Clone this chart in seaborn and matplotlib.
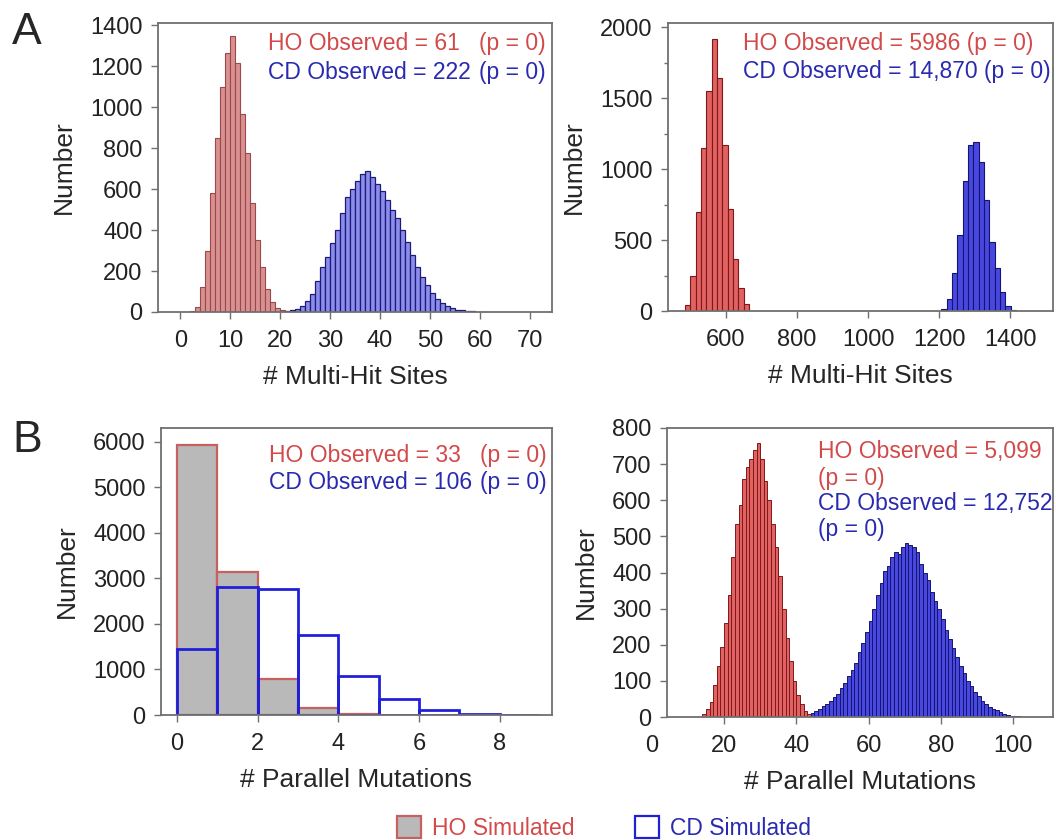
import numpy as np
import pandas as pd
import matplotlib
matplotlib.use("Agg")
import matplotlib.pyplot as plt
import matplotlib.transforms as mtransforms
from matplotlib.patches import Patch
from matplotlib.ticker import MultipleLocator
import seaborn as sns

# ---------------- data (bin left edges + counts) -------------
# Panel A left: # Multi-Hit Sites (bin width 1)
ho_a1_start = 2
ho_a1_counts = [5, 25, 120, 300, 580, 850, 1100, 1265, 1345, 1215, 965, 775, 530,
                350, 220, 110, 50, 20, 8]
cd_a1_start = 21
cd_a1_counts = [3, 8, 15, 30, 55, 90, 150, 219, 267, 335, 399, 481, 559, 601, 641,
                675, 690, 660, 625, 590, 545, 500, 460, 400, 340, 280, 220, 170,
                130, 95, 65, 45, 30, 20, 12, 8, 5, 3, 2, 1]

# Panel A right: # Multi-Hit Sites (bin width 15)
ho_a2_start = 485
ho_a2_counts = [40, 250, 700, 1150, 1550, 1920, 1640, 1170, 720, 370, 160, 50]
cd_a2_start = 1206
cd_a2_counts = [17, 83, 267, 533, 917, 1167, 1190, 1050, 783, 483, 300, 133, 33, 8]

# Panel B left: # Parallel Mutations (bin width 1)
ho_b1_start = 0
ho_b1_counts = [5920, 3140, 780, 150, 20]
cd_b1_start = 0
cd_b1_counts = [1450, 2820, 2760, 1750, 850, 350, 100, 30, 10]

# Panel B right: # Parallel Mutations (bin width 1)
ho_b2_start = 14
ho_b2_counts = [9, 22, 42, 88, 140, 193, 259, 338, 443, 535, 588, 660, 693, 713,
                740, 759, 713, 654, 601, 535, 470, 391, 299, 220, 154, 101, 62,
                36, 16, 8, 4]
cd_b2_start = 44
cd_b2_counts = [12, 16, 22, 30, 36, 45, 55, 65, 80, 95, 114, 130, 150, 180, 205,
                235, 265, 299, 338, 370, 404, 417, 443, 457, 450, 470, 483, 476,
                470, 457, 424, 400, 378, 345, 320, 299, 270, 240, 215, 190, 165,
                140, 121, 101, 85, 70, 58, 45, 36, 29, 22, 18, 13, 9, 6, 4, 3, 2]

xlabels = ["# Multi-Hit Sites", "# Multi-Hit Sites",
           "# Parallel Mutations", "# Parallel Mutations"]
ylabel = "Number"
ann_a1 = [("HO Observed = 61", "(p = 0)"), ("CD Observed = 222", "(p = 0)")]
ann_a2 = ["HO Observed = 5986 (p = 0)", "CD Observed = 14,870 (p = 0)"]
ann_b1 = [("HO Observed = 33", "(p = 0)"), ("CD Observed = 106", "(p = 0)")]
ann_b2 = ["HO Observed = 5,099", "(p = 0)", "CD Observed = 12,752", "(p = 0)"]
legend_labels = ["HO Simulated", "CD Simulated"]
panel_letters = ["A", "B"]

# ---------------- style ----------------
sns.set_theme(style="ticks")
plt.rcParams["font.family"] = ["Liberation Sans", "DejaVu Sans"]
plt.rcParams["axes.edgecolor"] = "#707070"
plt.rcParams["xtick.color"] = "#707070"
plt.rcParams["ytick.color"] = "#707070"
plt.rcParams["xtick.labelcolor"] = "#222222"
plt.rcParams["ytick.labelcolor"] = "#222222"

RED_TXT = "#d24a4a"
BLUE_TXT = "#2a2ab0"
FS_TICK = 17
FS_LAB = 19
FS_ANN = 16.5
TICK_LEN = 5
TICK_PAD = 8

W, H = 1056, 840
fig = plt.figure(figsize=(W / 100, H / 100), dpi=100)


def ax_at(l, r, t, b):
    return fig.add_axes([l / W, 1 - b / H, (r - l) / W, (b - t) / H])


def hist(ax, start, counts, width, **kw):
    counts = np.asarray(counts, dtype=float)
    edges = start + width * np.arange(len(counts) + 1)
    df = pd.DataFrame({"x": edges[:-1] + width / 2, "n": counts})
    sns.histplot(data=df, x="x", weights="n", bins=[float(e) for e in edges],
                 ax=ax, stat="count", **kw)


ax1 = ax_at(158, 552, 23, 312)
ax2 = ax_at(668, 1053, 23, 311)
ax3 = ax_at(161, 552, 428, 715)
ax4 = ax_at(667, 1053, 428, 717)

# A left
hist(ax1, ho_a1_start, ho_a1_counts, 1, color="#d99090", edgecolor="#9a4848",
     linewidth=0.8, alpha=1)
hist(ax1, cd_a1_start, cd_a1_counts, 1, color="#8c8cec", edgecolor="#1c1c78",
     linewidth=0.9, alpha=1)
ax1.set_xlim(-4.5, 74.5)
ax1.set_ylim(0, 1410)
ax1.xaxis.set_major_locator(MultipleLocator(10))
ax1.yaxis.set_major_locator(MultipleLocator(200))

# A right
hist(ax2, ho_a2_start, ho_a2_counts, 15, color="#e06262", edgecolor="#801818",
     linewidth=0.8, alpha=1)
hist(ax2, cd_a2_start, cd_a2_counts, 15, color="#4848e0", edgecolor="#141470",
     linewidth=0.8, alpha=1)
ax2.set_xlim(437, 1520)
ax2.set_ylim(0, 2030)
ax2.xaxis.set_major_locator(MultipleLocator(200))
ax2.yaxis.set_major_locator(MultipleLocator(500))
ax2.yaxis.set_minor_locator(MultipleLocator(250))

# B left
hist(ax3, ho_b1_start, ho_b1_counts, 1, color="#b9b9b9", edgecolor="#c86060",
     linewidth=1.6, alpha=1)
hist(ax3, cd_b1_start, cd_b1_counts, 1, color="#2020d8", fill=False,
     linewidth=2.0)
ax3.set_xlim(-0.4, 9.3)
ax3.set_ylim(0, 6300)
ax3.xaxis.set_major_locator(MultipleLocator(2))
ax3.yaxis.set_major_locator(MultipleLocator(1000))

# B right
hist(ax4, ho_b2_start, ho_b2_counts, 1, color="#e06262", edgecolor="#801818",
     linewidth=0.7, alpha=1)
hist(ax4, cd_b2_start, cd_b2_counts, 1, color="#4848e0", edgecolor="#141470",
     linewidth=0.7, alpha=1)
ax4.set_xlim(4.2, 111)
ax4.set_ylim(0, 800)
ax4.xaxis.set_major_locator(MultipleLocator(20))
ax4.yaxis.set_major_locator(MultipleLocator(100))
# the reference shows the "0" label just left of the frame
ax4.annotate("0", xy=(0, 0),
             xycoords=mtransforms.blended_transform_factory(ax4.transData, ax4.transAxes),
             xytext=(0, -(TICK_LEN + TICK_PAD)), textcoords="offset points",
             ha="center", va="top", fontsize=FS_TICK, color="#222222",
             annotation_clip=False)

for ax, xl in zip([ax1, ax2, ax3, ax4], xlabels):
    ax.set_xlabel(xl, fontsize=FS_LAB, labelpad=9)
    ax.set_ylabel(ylabel, fontsize=FS_LAB, labelpad=10)
    ax.tick_params(axis="x", labelsize=FS_TICK, length=TICK_LEN, width=1,
                   direction="out", pad=TICK_PAD)
    ax.tick_params(axis="y", labelsize=FS_TICK, length=TICK_LEN, width=1,
                   direction="out", pad=6)
    ax.tick_params(axis="y", which="minor", length=3, width=1)
    for s in ax.spines.values():
        s.set_linewidth(1.3)

# annotations
def two_part(ax, rows, x0, x1, ys):
    for (left, right), y, c in zip(rows, ys, [RED_TXT, BLUE_TXT]):
        ax.text(x0, y, left, color=c, fontsize=FS_ANN, transform=ax.transAxes,
                ha="left", va="center")
        ax.text(x1, y, right, color=c, fontsize=FS_ANN, transform=ax.transAxes,
                ha="right", va="center")

two_part(ax1, ann_a1, 0.28, 0.985, [0.93, 0.83])
for txt, y, c in zip(ann_a2, [0.928, 0.83], [RED_TXT, BLUE_TXT]):
    ax2.text(0.195, y, txt, color=c, fontsize=FS_ANN, transform=ax2.transAxes,
             ha="left", va="center")
two_part(ax3, ann_b1, 0.275, 0.985, [0.905, 0.81])
for txt, y, c in zip(ann_b2, [0.92, 0.824, 0.74, 0.65],
                     [RED_TXT, RED_TXT, BLUE_TXT, BLUE_TXT]):
    ax4.text(0.392, y, txt, color=c, fontsize=FS_ANN, transform=ax4.transAxes,
             ha="left", va="center")

# panel letters
fig.text(12 / W, 1 - 32 / H, panel_letters[0], fontsize=32, ha="left", va="center")
fig.text(12 / W, 1 - 440 / H, panel_letters[1], fontsize=32, ha="left", va="center")

# legend
handles = [Patch(facecolor="#b9b9b9", edgecolor="#c86060", linewidth=1.6),
           Patch(facecolor="white", edgecolor="#2020d8", linewidth=1.6)]
fig.legend(handles, legend_labels, loc="center", bbox_to_anchor=(0.572, 1 - 828 / H),
           ncol=2, frameon=False, fontsize=FS_ANN, columnspacing=2.6,
           handlelength=1.05, handleheight=1.05, handletextpad=0.5,
           labelcolor=[RED_TXT, BLUE_TXT])

fig.savefig("out.png", dpi=100)
